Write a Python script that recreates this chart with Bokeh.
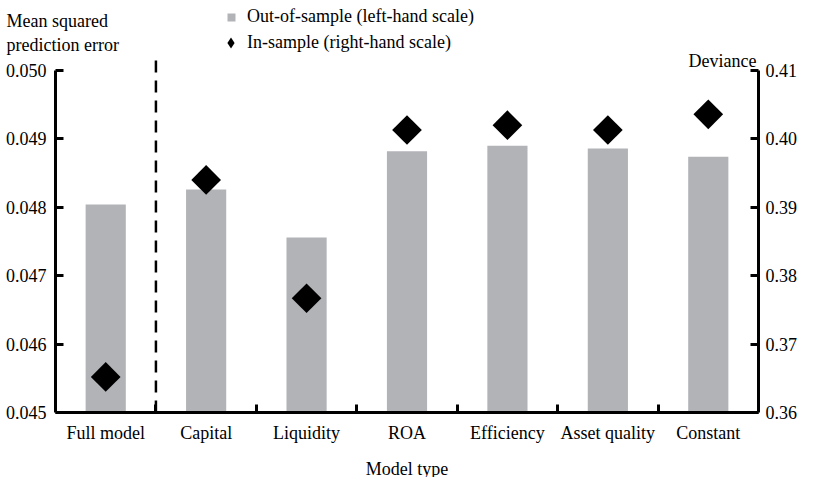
import math
from bokeh.plotting import figure
from bokeh.models import (Range1d, LinearAxis, FixedTicker, Label, Legend,
                          LegendItem, ColumnDataSource, PrintfTickFormatter)
from bokeh.embed import file_html
from bokeh.resources import INLINE

# ---- data ----
categories = ["Full model", "Capital", "Liquidity", "ROA", "Efficiency",
              "Asset quality", "Constant"]
out_of_sample = [0.04804, 0.04826, 0.04756, 0.04882, 0.04890, 0.04886, 0.04874]
in_sample = [0.3652, 0.3940, 0.3767, 0.4013, 0.4020, 0.4013, 0.4036]
left_ticks = [0.045, 0.046, 0.047, 0.048, 0.049, 0.050]
right_ticks = [0.36, 0.37, 0.38, 0.39, 0.40, 0.41]

FONT = "Liberation Serif"
FS = "18px"
BAR_COLOR = "#b2b3b7"

# ---- layout (canvas pixels) ----
W, H = 797, 477
AX_L, AX_R = 55, 758        # x of left / right axis lines
Y_TOP, Y_BOT = 70, 412      # y of top / bottom tick marks
DASH_TOP = 56               # y where the dashed separator starts

n = len(categories)
xs = list(range(n))
src = ColumnDataSource(dict(x=xs, cat=categories, oos=out_of_sample, ins=in_sample))

left_lo, left_hi = left_ticks[0], left_ticks[-1]
right_lo, right_hi = right_ticks[0], right_ticks[-1]

px_cat = (AX_R - AX_L) / n
x_start = -0.5 - AX_L / px_cat
x_end = x_start + W / px_cat
px_l = (Y_BOT - Y_TOP) / (left_hi - left_lo)
px_r = (Y_BOT - Y_TOP) / (right_hi - right_lo)

p = figure(width=W, height=H, output_backend="svg", toolbar_location=None,
           x_range=Range1d(x_start, x_end),
           y_range=Range1d(left_lo - (H - Y_BOT) / px_l, left_hi + Y_TOP / px_l),
           x_axis_location=None, y_axis_location=None,
           min_border_left=0, min_border_right=0, min_border_top=0,
           min_border_bottom=0)
p.extra_y_ranges = {"dev": Range1d(right_lo - (H - Y_BOT) / px_r,
                                   right_hi + Y_TOP / px_r)}
p.outline_line_color = None
p.xgrid.visible = False
p.ygrid.visible = False
p.background_fill_color = "white"
p.border_fill_color = "white"

bars = p.vbar(x="x", top="oos", bottom=left_lo, width=0.4, source=src,
              fill_color=BAR_COLOR, line_color=None)
dots = p.scatter(x="x", y="ins", source=src, y_range_name="dev", marker="square",
                 angle=math.pi / 4, size=21, fill_color="black", line_color=None)
# hidden twin of the in-sample series, used only for its diamond legend key
dots_key = p.scatter(x="x", y="ins", source=src, y_range_name="dev", marker="diamond",
                     size=21, fill_color="black", line_color=None, visible=False)

# dashed separator between the full model and the single-variable models
sep_x = (xs[0] + xs[1]) / 2
p.segment(x0=[sep_x], x1=[sep_x], y0=[left_lo],
          y1=[left_hi + (Y_TOP - DASH_TOP) / px_l],
          line_color="black", line_width=2.5, line_dash="12 8")


def style_axis(ax):
    ax.axis_line_width = 3
    ax.axis_line_color = "black"
    ax.major_tick_line_width = 3
    ax.minor_tick_line_width = 3
    ax.major_label_text_font = FONT
    ax.major_label_text_font_size = FS
    ax.major_label_text_color = "black"
    ax.axis_label_text_font = FONT
    ax.axis_label_text_font_size = FS
    ax.axis_label_text_font_style = "normal"
    ax.axis_label_text_color = "black"


yl = LinearAxis(fixed_location=-0.5, bounds=(left_lo, left_hi),
                ticker=FixedTicker(ticks=left_ticks),
                formatter=PrintfTickFormatter(format="%.3f"),
                major_tick_in=8, major_tick_out=0, minor_tick_in=0, minor_tick_out=0,
                major_label_standoff=9)
style_axis(yl)
p.add_layout(yl, "left")

yr = LinearAxis(fixed_location=n - 0.5, y_range_name="dev", bounds=(right_lo, right_hi),
                ticker=FixedTicker(ticks=right_ticks),
                formatter=PrintfTickFormatter(format="%.2f"),
                major_tick_in=8, major_tick_out=0, minor_tick_in=0, minor_tick_out=0,
                major_label_standoff=7)
style_axis(yr)
p.add_layout(yr, "right")

xb = LinearAxis(fixed_location=left_lo, bounds=(-0.5, n - 0.5),
                ticker=FixedTicker(ticks=xs, minor_ticks=[x + 0.5 for x in xs[:-1]]),
                major_label_overrides={x: c for x, c in zip(xs, categories)},
                major_tick_in=0, major_tick_out=0, minor_tick_in=8, minor_tick_out=0,
                major_label_standoff=10, axis_label="Model type",
                axis_label_standoff=13)
style_axis(xb)
p.add_layout(xb, "below")

# axis titles (screen units measured from the frame's bottom-left)
for txt, cy in [("Mean squared", 20), ("prediction error", 44)]:
    p.add_layout(Label(x=6, y=H - cy, x_units="screen", y_units="screen", text=txt,
                       text_font=FONT, text_font_size=FS, text_align="left",
                       text_baseline="middle", text_color="black"))
p.add_layout(Label(x=AX_R - 2, y=H - 60, x_units="screen", y_units="screen",
                   text="Deviance", text_font=FONT, text_font_size=FS,
                   text_align="right", text_baseline="middle", text_color="black"))

# legends
common = dict(padding=0, margin=0, border_line_color=None, background_fill_alpha=0,
              label_text_font=FONT, label_text_font_size=FS, label_text_color="black",
              spacing=0, inactive_fill_alpha=0)
leg1 = Legend(items=[LegendItem(label="Out-of-sample (left-hand scale)", renderers=[bars])],
              location=(226, H - 27), glyph_width=10, glyph_height=10, label_height=20,
              label_standoff=11, **common)
leg2 = Legend(items=[LegendItem(label="In-sample (right-hand scale)", renderers=[dots_key])],
              location=(217, H - 56), glyph_width=27, glyph_height=27, label_height=20,
              label_standoff=3, **common)
p.add_layout(leg1, "center")
p.add_layout(leg2, "center")

open("out.html", "w").write(file_html(p, INLINE))
